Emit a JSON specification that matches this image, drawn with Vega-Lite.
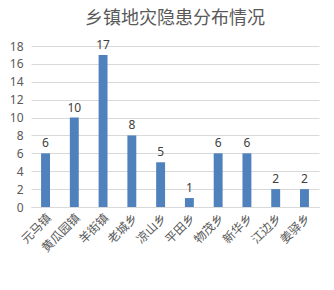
{
  "$schema": "https://vega.github.io/schema/vega-lite/v6.json",
  "autosize": {"type": "none"},
  "width": 288,
  "height": 161,
  "padding": {"left": 31, "top": 46, "right": 15, "bottom": 83},
  "background": "white",
  "title": {"text": "乡镇地灾隐患分布情况", "fontSize": 18, "font": "Noto Sans CJK SC", "fontWeight": "normal", "color": "#595959", "offset": 11, "anchor": "middle"},
  "config": {"view": {"stroke": null}},
  "data": {"values": [
    {"town": "元马镇", "count": 6},
    {"town": "黄瓜园镇", "count": 10},
    {"town": "羊街镇", "count": 17},
    {"town": "老城乡", "count": 8},
    {"town": "凉山乡", "count": 5},
    {"town": "平田乡", "count": 1},
    {"town": "物茂乡", "count": 6},
    {"town": "新华乡", "count": 6},
    {"town": "江边乡", "count": 2},
    {"town": "姜驿乡", "count": 2}
  ]},
  "encoding": {
    "x": {"field": "town", "type": "nominal", "sort": null,
      "scale": {"paddingInner": 0.69, "paddingOuter": 0.35},
      "axis": {"title": null, "labelAngle": -45, "labelFont": "Noto Sans CJK SC", "labelFontSize": 12, "labelColor": "#595959", "ticks": false, "domainColor": "#d9d9d9", "labelPadding": 5}},
    "y": {"field": "count", "type": "quantitative",
      "scale": {"domain": [0, 18]},
      "axis": {"title": null, "values": [0,2,4,6,8,10,12,14,16,18], "labelFont": "Noto Sans", "labelFontSize": 12, "labelColor": "#595959", "domain": false, "ticks": false, "gridColor": "#d9d9d9", "labelPadding": 8}}
  },
  "layer": [
    {"mark": {"type": "bar", "color": "#4f81bd"}},
    {"mark": {"type": "text", "dy": -10, "font": "Noto Sans", "fontSize": 12, "color": "#404040"}, "encoding": {"text": {"field": "count"}}}
  ]
}
